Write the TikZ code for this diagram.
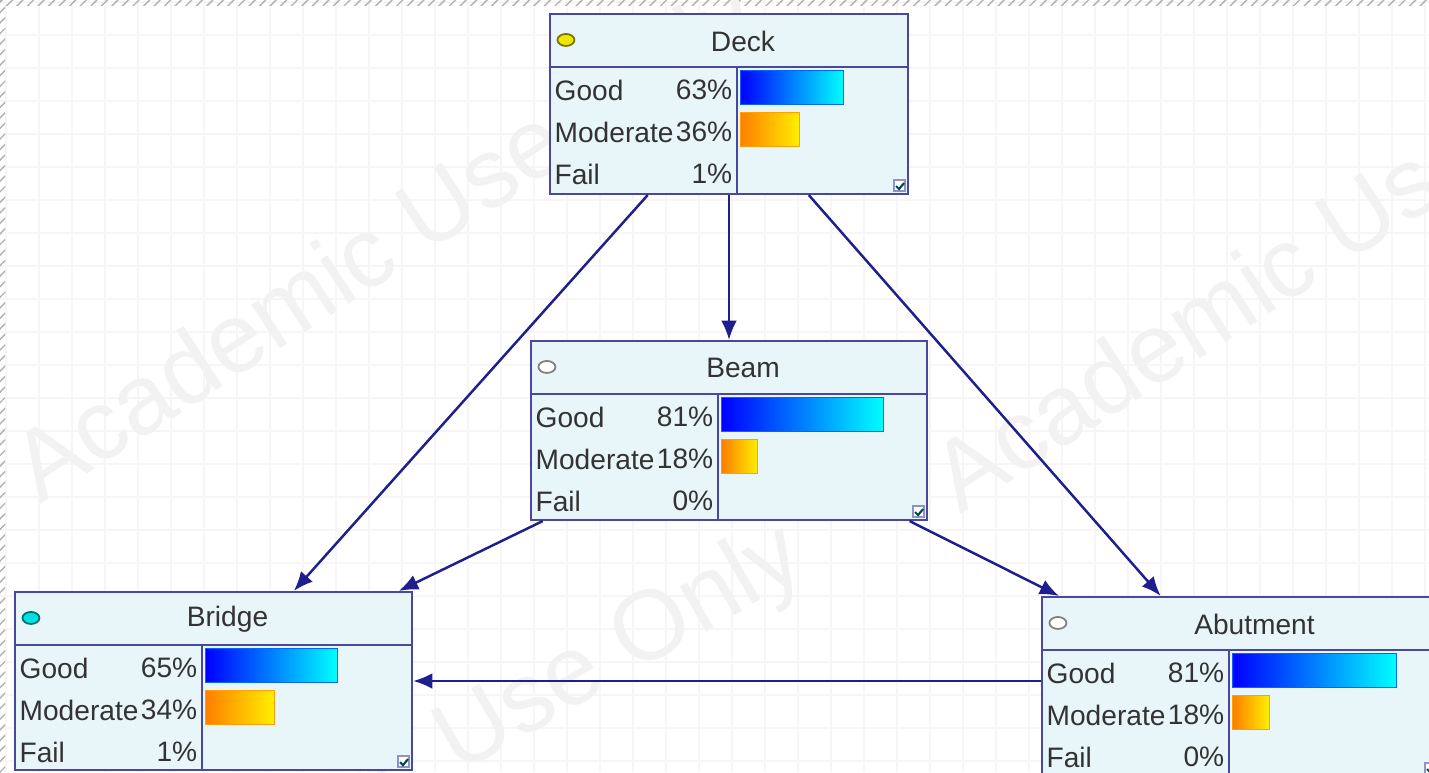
\documentclass[tikz,border=0pt]{standalone}
\usepackage{fontspec}
\setmainfont{Liberation Sans}
\usetikzlibrary{arrows.meta,patterns}

\definecolor{nodefill}{HTML}{E8F5F9}
\definecolor{nodeline}{HTML}{4848A0}
\definecolor{linkblue}{HTML}{1E1E8C}
\definecolor{labelgray}{HTML}{333333}
\definecolor{gridgray}{HTML}{F6F6F6}
\definecolor{barorange}{HTML}{FF7F00}
\definecolor{baryellow}{HTML}{FFF000}
\definecolor{iconyellow}{HTML}{F2E600}
\definecolor{iconcyan}{HTML}{00E0E0}
\definecolor{iconwhite}{HTML}{FFFFFF}

\pgfdeclarehorizontalshading{goodshade}{100bp}{color(0bp)=(blue); color(25bp)=(blue); color(75bp)=(cyan); color(100bp)=(cyan)}
\pgfdeclarehorizontalshading{modshade}{100bp}{color(0bp)=(barorange); color(25bp)=(barorange); color(75bp)=(baryellow); color(100bp)=(baryellow)}

\tikzset{
  netnode/.style={rectangle, draw=nodeline, line width=0.6pt, fill=nodefill, inner sep=0pt},
  link/.style={draw=linkblue, line width=0.7pt, -{Latex[length=5.5pt,width=4.5pt]}},
  rowtext/.style={text=labelgray, font=\fontsize{8}{9.6}\selectfont, inner sep=0pt},
  goodbar/.style={shading=goodshade, draw=blue!60!cyan, line width=0.3pt},
  modbar/.style={shading=modshade, draw=barorange!70!baryellow, line width=0.3pt},
  watermark/.style={text=black!5, font=\fontsize{28}{30}\selectfont, rotate=33, anchor=base west, inner sep=0pt}
}

\begin{document}
\begin{tikzpicture}[x=0.01cm, y=-0.01cm]

  \useasboundingbox (0,0) rectangle (1429,772);
  \clip (0,0) rectangle (1429,772);
  \fill[white] (0,0) rectangle (1429,772);  %Hintergrund

  \foreach \x in {6,39,...,1429}  %Raster senkrecht
    \draw[gridgray, line width=0.4pt] (\x,0) -- (\x,772);
  \foreach \y in {2,35,...,772}  %Raster waagerecht
    \draw[gridgray, line width=0.4pt] (0,\y) -- (1429,\y);

  \fill[pattern=north east lines, pattern color=black!30] (0,0) rectangle (5,772);  %Rand links
  \fill[pattern=north east lines, pattern color=black!30] (0,0) rectangle (1429,5);  %Rand oben

  \node[watermark] (wm1) at (40,505) {Academic Use Only};  %Wasserzeichen
  \node[watermark] (wm2) at (960,515) {Academic Use Only};
  \node[watermark, rotate=-3] (wm3) at (60,1005) {Academic Use Only};

  \foreach \name/\cx/\cy/\w/\h/\title/\icon/\good/\mod/\fail/\scl in
      {deck/729/104/358/180/Deck/iconyellow/63/36/1/1.63,       %\cx,\cy Mitte des Knotens
       beam/729/430.5/396/179/Beam/iconwhite/81/18/0/2.0,       %\scl Balkenlaenge pro Prozent
       bridge/213.5/681/397/178/Bridge/iconcyan/65/34/1/2.02,
       abutment/1240.5/687/397/180/Abutment/iconwhite/81/18/0/2.02}
    {
     \node[netnode, minimum width=\w*0.01cm, minimum height=\h*0.01cm] (\name) at (\cx,\cy) {};  %Kasten
     \draw[nodeline, line width=0.6pt] (\name.north west) ++(0,54) -- ++(\w,0);  %Titelleiste
     \draw[nodeline, line width=0.6pt] (\name.north west) ++(188,54) -- ++(0,\h-54);  %Trennlinie
     \draw[draw=\icon!50!black, fill=\icon, line width=0.5pt] ([shift={(17,27)}]\name.north west) ellipse [x radius=8.5, y radius=6];  %Symbol
     \path (\name.north) ++(14,28) node[rowtext] {\title};  %Titel
     \path (\name.north west) ++(5,77) node[rowtext, anchor=west] {Good}
           ++(179,0) node[rowtext, anchor=east] {\good\%};
     \path (\name.north west) ++(5,119) node[rowtext, anchor=west] {Moderate}
           ++(179,0) node[rowtext, anchor=east] {\mod\%};
     \path (\name.north west) ++(5,161) node[rowtext, anchor=west] {Fail}
           ++(179,0) node[rowtext, anchor=east] {\fail\%};
     \draw[goodbar] ([shift={(192,58)}]\name.north west) rectangle ++(\good*\scl,34);  %Balken Good
     \draw[modbar] ([shift={(192,100)}]\name.north west) rectangle ++(\mod*\scl,34);  %Balken Moderate
     \draw[fill=white, draw=nodeline!60, line width=0.4pt] ([shift={(-15,-15)}]\name.south east) rectangle ++(11,11);  %Kontrollkaestchen
     \draw[teal!60!black, line width=0.6pt] ([shift={(-13,-9)}]\name.south east) -- ++(3,3) -- ++(5,-6);
    };

  \draw[link] (deck) -- (beam);  %Kanten
  \draw[link] (deck) -- (bridge);
  \draw[link] (deck) -- (abutment);
  \draw[link] (beam) -- (bridge);
  \draw[link] (beam) -- (abutment);
  \draw[link] (abutment.west |- bridge) -- (bridge.east);

\end{tikzpicture}
\end{document}
